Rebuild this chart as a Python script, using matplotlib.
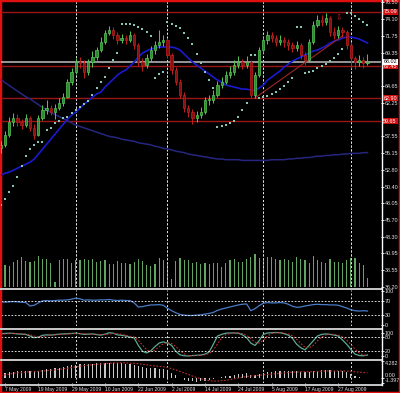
import matplotlib
matplotlib.use("Agg")
import matplotlib.pyplot as plt
import matplotlib.transforms as mtransforms
from matplotlib.lines import Line2D
from matplotlib.patches import Rectangle

plt.rcParams["font.family"] = ["Liberation Sans", "DejaVu Sans"]

# daily bars, 6 May .. 7 Sep 2009
opens = [55.8, 56.3, 57.7, 59.5, 60.1, 59.5, 59.1, 60.1, 58.7, 57.7,
         60.1, 61.2, 61.5, 61.0, 61.5, 62.2, 63.1, 65.2, 66.6, 68.0,
         67.9, 66.6, 68.0, 68.7, 69.7, 70.9, 72.1, 72.5, 71.8, 71.1,
         71.4, 71.1, 71.8, 70.4, 68.0, 67.6, 68.6, 69.7, 70.4, 70.9,
         71.1, 69.0, 66.9, 65.2, 63.4, 61.5, 61.0, 60.1, 60.5, 61.0,
         62.6, 62.6, 63.4, 64.8, 65.2, 66.2, 66.6, 67.6, 68.0, 67.6,
         68.0, 63.4, 66.2, 69.7, 71.1, 71.8, 71.4, 70.9, 71.1, 70.9,
         70.4, 70.0, 70.4, 69.0, 68.3, 70.9, 73.3, 74.0, 73.7, 74.2,
         72.3, 71.8, 72.5, 72.3, 70.4, 68.6, 68.0, 68.3, 67.9]
closes = [56.3, 57.7, 59.5, 60.1, 59.5, 59.1, 60.1, 58.7, 57.7, 60.1,
          61.2, 61.5, 61.0, 61.5, 62.2, 63.1, 65.2, 66.6, 68.0, 67.9,
          66.6, 68.0, 68.7, 69.7, 70.9, 72.1, 72.5, 71.8, 71.1, 71.4,
          71.1, 71.8, 70.4, 68.0, 67.6, 68.6, 69.7, 70.4, 70.9, 71.1,
          69.0, 66.9, 65.2, 63.4, 61.5, 61.0, 60.1, 60.5, 61.0, 62.6,
          62.6, 63.4, 64.8, 65.2, 66.2, 66.6, 67.6, 68.0, 67.6, 68.0,
          63.4, 66.2, 69.7, 71.1, 71.8, 71.4, 70.9, 71.1, 70.9, 70.4,
          70.0, 70.4, 69.0, 68.3, 70.9, 73.3, 74.0, 73.7, 74.2, 72.3,
          71.8, 72.5, 72.3, 70.4, 68.6, 68.0, 68.3, 67.9, 68.0]
highs = [56.9, 58.2, 60.3, 60.8, 60.6, 60.0, 60.7, 60.4, 59.2, 60.5,
         61.9, 62.6, 62.0, 62.1, 62.9, 63.6, 65.6, 67.1, 68.6, 68.7,
         68.3, 68.4, 69.6, 70.2, 71.5, 72.6, 73.1, 72.9, 72.2, 72.0,
         71.9, 72.4, 72.1, 70.7, 68.6, 69.2, 70.3, 71.0, 72.6, 71.8,
         71.4, 69.3, 67.3, 65.6, 63.8, 62.0, 61.4, 61.1, 61.6, 63.0,
         63.4, 64.0, 65.3, 65.9, 66.8, 67.4, 68.3, 68.8, 68.5, 68.9,
         68.3, 66.6, 70.1, 71.6, 72.4, 72.3, 71.9, 71.8, 71.6, 71.3,
         70.9, 71.0, 70.7, 69.4, 71.3, 73.8, 74.6, 74.6, 74.9, 74.5,
         72.9, 73.1, 73.0, 72.6, 70.8, 68.9, 69.0, 68.7, 69.1]
lows = [55.2, 56.0, 57.4, 59.0, 58.9, 58.5, 58.8, 58.2, 57.1, 57.5,
        59.8, 60.7, 60.5, 59.9, 61.2, 61.8, 62.9, 64.8, 66.3, 67.2,
        65.8, 66.2, 67.3, 68.3, 69.4, 70.6, 71.8, 71.2, 70.6, 70.7,
        70.5, 70.8, 69.9, 67.4, 66.8, 67.1, 68.2, 69.2, 70.0, 70.3,
        68.6, 66.3, 64.7, 62.9, 60.9, 60.2, 59.3, 59.6, 60.1, 60.7,
        61.9, 62.2, 63.1, 64.3, 64.9, 65.8, 66.2, 67.2, 67.0, 67.2,
        62.9, 62.9, 65.9, 69.3, 70.6, 70.8, 70.3, 70.4, 70.2, 69.7,
        69.4, 69.6, 68.4, 67.6, 68.0, 70.6, 72.9, 73.1, 73.2, 71.7,
        71.2, 71.4, 71.6, 69.8, 67.2, 67.0, 67.4, 67.1, 67.6]

ma_fast = [52.00, 52.29, 52.43, 52.71, 53.00, 53.28, 53.56, 53.85, 54.27, 54.98,
           55.69, 56.39, 57.10, 57.81, 58.52, 59.23, 59.94, 60.50, 60.93, 61.49,
           62.06, 62.49, 63.05, 63.48, 63.76, 64.47, 65.03, 65.60, 66.17, 66.59,
           66.88, 67.44, 68.01, 68.72, 69.28, 69.57, 69.85, 69.99, 70.13, 70.13,
           70.13, 70.13, 69.99, 69.71, 69.14, 68.58, 68.01, 67.58, 67.16, 66.73,
           66.31, 65.88, 65.46, 65.18, 64.75, 64.61, 64.47, 64.33, 64.18, 64.18,
           64.04, 64.04, 64.33, 64.75, 65.46, 65.88, 66.31, 66.73, 67.30, 67.73,
           68.15, 68.43, 68.72, 69.00, 69.28, 69.57, 69.71, 69.99, 70.28, 70.70,
           70.98, 71.13, 71.41, 71.55, 71.55, 71.41, 71.27, 70.98, 70.70]
ma_slow = [65.6, 65.1, 64.7, 64.3, 63.9, 63.5, 63.1, 62.8, 62.4, 62.0,
           61.6, 61.2, 60.9, 60.6, 60.3, 60.0, 59.7, 59.4, 59.1, 58.9,
           58.7, 58.5, 58.3, 58.1, 57.9, 57.7, 57.5, 57.4, 57.3, 57.1,
           57.0, 56.9, 56.8, 56.6, 56.5, 56.4, 56.3, 56.1, 56.0, 55.8,
           55.7, 55.6, 55.4, 55.3, 55.2, 55.0, 54.9, 54.8, 54.7, 54.6,
           54.5, 54.4, 54.3, 54.3, 54.2, 54.2, 54.2, 54.2, 54.1, 54.1,
           54.1, 54.1, 54.1, 54.1, 54.1, 54.2, 54.2, 54.2, 54.2, 54.3,
           54.3, 54.4, 54.4, 54.5, 54.5, 54.6, 54.7, 54.7, 54.8, 54.8,
           54.9, 54.9, 55.0, 55.0, 55.1, 55.1, 55.1, 55.2, 55.2]
sar = [47.8, 48.6, 49.6, 50.5, 51.7, 53.3, 54.7, 55.7, 56.3, 56.7,
       56.7, 58.4, 58.7, 59.4, 59.7, 60.1, 60.2, 60.8, 61.2, 61.6,
       62.1, 62.5, 63.4, 64.3, 65.2, 65.9, 67.2, 68.3, 69.3, 73.4,
       73.4, 73.4, 73.3, 73.0, 72.7, 72.3, 71.7, 65.8, 66.3, 66.6,
       73.7, 73.4, 73.1, 72.8, 72.1, 71.4, 70.6, 69.1, 67.9, 66.6,
       65.5, 64.3, 58.8, 59.0, 59.1, 59.4, 59.7, 60.2, 61.2, 62.2,
       69.0, 69.0, 62.9, 63.1, 63.2, 63.5, 63.8, 64.2, 64.6, 65.2,
       65.8, 72.9, 72.9, 66.5, 66.6, 66.8, 67.1, 67.4, 67.7, 68.1,
       68.6, 69.2, 69.8, 74.9, 74.9, 74.5, 74.1, 73.7, 73.3]
volume = [20, 22, 21, 25, 27, 30, 26, 25, 26, 31, 28, 28, 24, 5, 27, 28, 28, 24,
          27, 27, 28, 27, 28, 25, 26, 27, 23, 23, 26, 24, 24, 23, 25, 28, 26, 22,
          21, 23, 29, 27, 24, 8, 26, 29, 27, 27, 24, 25, 23, 24, 23, 24, 24, 20,
          24, 27, 28, 25, 25, 28, 30, 33, 29, 29, 30, 30, 28, 27, 28, 27, 25, 30,
          28, 27, 24, 31, 27, 25, 24, 28, 25, 25, 24, 27, 29, 29, 24, 22, 9]

rsi = [68, 67, 68, 69, 68, 67, 66, 56, 58, 65,
       71, 72, 71, 72, 73, 73, 74, 76, 79, 77,
       73, 74, 73, 73, 74, 74, 75, 73, 72, 73,
       72, 72, 65, 53, 54, 57, 59, 59, 60, 58,
       49, 42, 36, 31, 29, 28, 28, 29, 30, 32,
       34, 37, 43, 47, 50, 53, 56, 59, 61, 62,
       42, 48, 57, 64, 66, 65, 65, 66, 65, 61,
       55, 52, 53, 56, 58, 60, 61, 60, 60, 59,
       59, 58, 54, 50, 45, 42, 41, 42, 41]
stoch_main = [95, 96, 97, 96, 94, 93, 92, 85, 78, 80,
              88, 90, 89, 91, 93, 94, 95, 96, 97, 95,
              92, 93, 94, 91, 89, 93, 99, 97, 90, 88,
              85, 80, 77, 45, 20, 13, 22, 40, 55, 60,
              55, 45, 20, 5, 1, 0, 2, 3, 4, 8,
              17, 50, 85, 92, 97, 98, 98, 97, 90, 78,
              55, 45, 65, 92, 98, 99, 100, 99, 95, 89,
              75, 50, 35, 26, 45, 65, 85, 92, 94, 92,
              89, 85, 68, 50, 28, 8, 2, 1, 4]
stoch_signal = [92, 94, 95, 96, 96, 95, 93, 90, 85, 81,
                82, 86, 89, 90, 91, 92, 94, 95, 96, 96,
                95, 93, 93, 93, 91, 91, 93, 96, 95, 92,
                88, 84, 81, 67, 47, 26, 18, 25, 39, 52,
                57, 53, 40, 23, 9, 2, 1, 2, 3, 5,
                10, 25, 51, 76, 91, 96, 98, 98, 95, 88,
                74, 59, 55, 67, 85, 96, 99, 99, 98, 94,
                86, 71, 53, 37, 35, 45, 65, 81, 90, 93,
                92, 89, 81, 68, 49, 29, 13, 4, 2]
macd_hist = [1.0, 1.2, 1.4, 1.5, 1.6, 1.6, 1.7, 1.7, 1.6, 1.8,
             2.0, 2.2, 2.3, 2.4, 2.6, 2.8, 3.0, 3.2, 3.3, 3.4,
             3.4, 3.5, 3.6, 3.7, 3.7, 3.8, 3.8, 3.8, 3.7, 3.7,
             3.6, 3.5, 3.3, 3.0, 2.8, 2.6, 2.5, 2.4, 2.3, 2.2,
             1.8, 1.2, 0.6, 0.0, -0.5, -0.8, -1.0, -1.1, -1.0, -0.8,
             -0.6, -0.4, -0.2, 0.1, 0.3, 0.5, 0.7, 0.9, 1.0, 1.1,
             0.6, 0.6, 0.9, 1.2, 1.4, 1.5, 1.6, 1.6, 1.6, 1.6,
             1.6, 1.6, 1.5, 1.4, 1.4, 1.6, 1.8, 1.9, 2.0, 1.9,
             1.8, 1.8, 1.7, 1.4, 0.9, 0.5, 0.2, 0.0, -0.1]
macd_signal = [0.5, 0.7, 0.9, 1.1, 1.2, 1.3, 1.4, 1.5, 1.5, 1.6,
               1.7, 1.8, 1.9, 2.0, 2.1, 2.3, 2.4, 2.6, 2.8, 2.9,
               3.1, 3.2, 3.3, 3.4, 3.5, 3.6, 3.7, 3.8, 3.8, 3.8,
               3.8, 3.7, 3.7, 3.6, 3.4, 3.3, 3.1, 3.0, 2.9, 2.8,
               2.6, 2.3, 2.0, 1.6, 1.2, 0.8, 0.4, 0.0, -0.3, -0.6,
               -0.8, -0.9, -0.9, -0.8, -0.7, -0.5, -0.3, -0.1, 0.1, 0.3,
               0.4, 0.5, 0.6, 0.7, 0.8, 0.9, 1.0, 1.1, 1.2, 1.3,
               1.4, 1.4, 1.5, 1.5, 1.5, 1.5, 1.6, 1.6, 1.7, 1.7,
               1.7, 1.7, 1.7, 1.7, 1.6, 1.5, 1.4, 1.3, 1.2]

levels = [75.09, 67.45, 62.90, 59.65]
last_price = 68.02
price_ticks = [36.20, 38.55, 40.95, 43.30, 45.70, 48.05, 50.40, 52.80, 55.15,
               57.55, 62.25, 64.65, 69.35, 71.75, 74.10, 76.50]
date_idx = [1, 9, 17, 25, 33, 41, 49, 57, 65, 73, 81]
date_labels = ["7 May 2009", "19 May 2009", "29 May 2009", "10 Jun 2009",
               "22 Jun 2009", "2 Jul 2009", "14 Jul 2009", "24 Jul 2009",
               "5 Aug 2009", "17 Aug 2009", "27 Aug 2009"]
month_idx = [18, 40, 63, 84]
trend_idx = [61, 82]
trend_val = [62.93, 71.70]

W, H = 400, 393
FS = 3.9
GREY = "#e0e0e0"

fig = plt.figure(figsize=(W / 100, H / 100), dpi=100, facecolor="black")


def panel(top, bottom):
    return fig.add_axes([1 / W, 1 - bottom / H, 380 / W, (bottom - top) / H])


ax = panel(2, 287)
axv = panel(2, 287)
ax_rsi = panel(290, 326)
ax_st = panel(331, 357)
ax_md = panel(361, 383)
axv.set_zorder(0)
ax.set_zorder(1)
ax.patch.set_alpha(0)

x = list(range(len(closes)))
for a in (ax, axv, ax_rsi, ax_st, ax_md):
    a.set_facecolor("black")
    a.set_xlim(0.05, 91.24)
    for s in a.spines.values():
        s.set_visible(False)
    a.tick_params(axis="x", bottom=False, labelbottom=False)
    a.tick_params(axis="y", left=False, labelleft=False, right=True, labelright=True,
                  colors="white", labelcolor=GREY, length=2, width=0.6,
                  labelsize=FS, pad=0.8)
    for m in month_idx:
        a.axvline(m, color="#e0e0e0", lw=0.7, ls=(0, (2, 2)), zorder=1)

# volume underneath
axv.bar(x, volume, width=0.3, color="#63a363", zorder=2)
axv.set_ylim(0, 285)
axv.set_yticks([])

# main price chart
ax.set_ylim(36.20, 76.50)
ax.set_yticks(price_ticks)
ax.set_yticklabels([f"{t:.2f}" for t in price_ticks])
for lv in levels:
    ax.axhline(lv, color="#9a1515", lw=1.0, zorder=2)
ax.axhline(last_price, color="#b0b0b0", lw=1.2, zorder=2)

ax.plot(x, ma_slow, color="#262680", lw=1.1, zorder=3)
ax.plot(x, ma_fast, color="#1a1ad0", lw=1.2, zorder=3)
ax.plot(trend_idx, trend_val, color="#a02525", lw=0.8, zorder=3)

for i in x:
    o, c = opens[i], closes[i]
    up = c >= o
    col = "#55c855" if up else "#c02020"
    ax.vlines(i, lows[i], highs[i], color=col, lw=0.7, zorder=4)
    ax.bar(i, max(abs(c - o), 0.12), bottom=min(o, c), width=0.55,
           color="#2f8a2f" if up else "#8a1010", edgecolor=col, lw=0.5, zorder=5)

ax.scatter(x, sar, s=1.3, color="#86c4b8", marker="s", lw=0, zorder=6)
ax.text(81, 74.2, "\u21e9", color="#d02020", fontsize=5.5, ha="center", va="center",
        family="DejaVu Sans", zorder=7)

tr = mtransforms.blended_transform_factory(ax.transAxes, ax.transData)
for lv in levels:
    ax.text(1.006, lv, f"{lv:.2f}", transform=tr, fontsize=FS, color="white",
            va="center", ha="left", clip_on=False, zorder=10,
            bbox=dict(boxstyle="square,pad=0.15", fc="#d01010", ec="none"))
ax.text(1.006, last_price, f"{last_price:.2f}", transform=tr, fontsize=FS, color="black",
        va="center", ha="left", clip_on=False, zorder=10,
        bbox=dict(boxstyle="square,pad=0.15", fc="white", ec="none"))

# RSI
ax_rsi.plot(x, rsi, color="#4a7cc8", lw=0.9)
ax_rsi.set_ylim(-3, 103)
for lv in (70, 30):
    ax_rsi.axhline(lv, color="white", lw=0.6, ls=(0, (2, 2)))
ax_rsi.set_yticks([100, 70, 30, 0])
ax_rsi.set_yticklabels(["100", "70", "30", "0"])

# stochastic
ax_st.plot(x, stoch_main, color="#5aaa98", lw=0.9)
ax_st.plot(x, stoch_signal, color="#c03030", lw=0.8, ls=(0, (1.5, 1.5)))
ax_st.set_ylim(-4.3, 106.4)
for lv in (80, 20):
    ax_st.axhline(lv, color="white", lw=0.6, ls=(0, (2, 2)))
ax_st.set_yticks([100, 80, 20, 0])
ax_st.set_yticklabels(["100", "80", "20", "0"])

# MACD
ax_md.bar(x, macd_hist, width=0.3, color="#c8c8c8")
ax_md.plot(x, macd_signal, color="#c03030", lw=0.8, ls=(0, (1.5, 1.5)))
ax_md.set_ylim(-1.397, 4.282)
ax_md.set_yticks([4.282, 0.0, -1.397])
ax_md.set_yticklabels(["4.282", "0.00", "-1.397"])
labs = ax_md.get_yticklabels()
labs[0].set_va("top")
labs[1].set_va("bottom")
labs[2].set_va("bottom")
ax_md.tick_params(axis="x", bottom=True, labelbottom=True, colors="white",
                  labelcolor=GREY, length=2.5, width=0.6, labelsize=3.6, pad=0.5)
ax_md.set_xticks(date_idx)
ax_md.set_xticklabels(date_labels, ha="left")

# separators, price scale line and red frame
for yy in (288.5, 328.5, 359.5, 384.5):
    fig.add_artist(Line2D([0, 381.5 / W], [1 - yy / H] * 2, color="#c8c8c8", lw=1.4))
fig.add_artist(Line2D([381.5 / W] * 2, [1 - 385 / H, 1], color="white", lw=1.0))
fig.add_artist(Rectangle((0, 0), 1, 1, transform=fig.transFigure, fill=False,
                         ec="#e01010", lw=2.5))

fig.savefig("out.png", dpi=100, facecolor="black")
